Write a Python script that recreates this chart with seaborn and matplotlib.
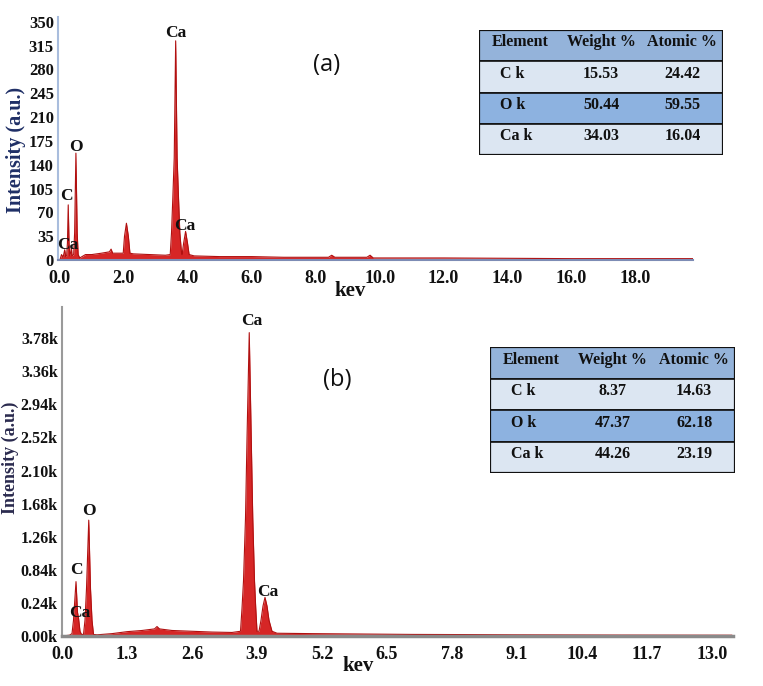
import numpy as np
import pandas as pd
import matplotlib.pyplot as plt
from matplotlib.patches import Rectangle
import seaborn as sns

# спектр (a): энергия (кэВ) и интенсивность
energy_a = [0.0, 0.05, 0.10, 0.15, 0.18, 0.21, 0.235, 0.26, 0.285, 0.31, 0.34, 0.36, 0.38,
            0.43, 0.46, 0.50, 0.54, 0.57, 0.62, 0.8, 1.0, 1.3, 1.55, 1.6, 1.65, 1.9,
            1.98, 2.02, 2.08, 2.14, 2.19, 2.3, 2.8, 3.3, 3.45, 3.49, 3.53, 3.575, 3.62,
            3.665, 3.71, 3.75, 3.80, 3.82, 3.87, 3.93, 3.99, 4.04, 4.2, 5.0, 6.0, 7.0,
            8.4, 8.5, 8.6, 9.6, 9.7, 9.8, 12.0, 16.0, 19.8]
counts_a = [0, 8, 4, 15, 5, 6, 25, 81, 25, 6, 12, 18, 6,
            8, 40, 157, 40, 8, 3, 8, 8, 10, 12, 16, 10, 10,
            10, 35, 54, 35, 10, 9, 8, 7, 8, 40, 90, 150, 322,
            150, 90, 40, 12, 8, 25, 42, 25, 8, 6, 5, 5, 4,
            4, 7, 4, 4, 7, 3, 3, 2, 2]

# спектр (b)
energy_b = [0.0, 0.15, 0.20, 0.23, 0.28, 0.31, 0.33, 0.36, 0.39, 0.43, 0.46, 0.49, 0.535,
            0.57, 0.60, 0.63, 0.7, 1.0, 1.3, 1.6, 1.85, 1.9, 1.95, 2.2, 2.6, 3.0, 3.4,
            3.57, 3.60, 3.63, 3.67, 3.70, 3.745, 3.785, 3.815, 3.85, 3.875, 3.90, 3.94,
            3.98, 4.02, 4.06, 4.10, 4.14, 4.20, 4.3, 5.0, 6.0, 7.0, 8.0, 9.0, 11.0, 13.4]
counts_b = [0, 10, 30, 200, 690, 300, 230, 60, 20, 20, 200, 600, 1470,
            600, 200, 20, 15, 30, 55, 70, 90, 120, 90, 70, 60, 50, 45,
            60, 350, 700, 1500, 2500, 3850, 2500, 1500, 700, 350, 60, 60,
            200, 380, 490, 380, 200, 60, 35, 30, 25, 20, 18, 15, 12, 10]

# подписи пиков
labels_a = ["Ca", "O", "C", "Ca", "Ca"]
label_x_a = [3.63, 0.50, 0.19, 0.25, 3.90]
label_y_a = [334, 166, 94, 22, 50]
labels_b = ["Ca", "O", "C", "Ca", "Ca"]
label_x_b = [3.80, 0.54, 0.28, 0.36, 4.12]
label_y_b = [3997, 1586, 838, 292, 558]

# оси
xticks_a = [0.0, 2.0, 4.0, 6.0, 8.0, 10.0, 12.0, 14.0, 16.0, 18.0]
yticks_a = [0, 35, 70, 105, 140, 175, 210, 245, 280, 315, 350]
xticks_b = [0.0, 1.3, 2.6, 3.9, 5.2, 6.5, 7.8, 9.1, 10.4, 11.7, 13.0]
yticks_b = [0, 420, 840, 1260, 1680, 2100, 2520, 2940, 3360, 3780]
ylabels_b = ["0.00k", "0.24k", "0.84k", "1.26k", "1.68k", "2.10k",
             "2.52k", "2.94k", "3.36k", "3.78k"]

# таблицы состава
elements = ["C k", "O k", "Ca k"]
weight_a = ["15.53", "50.44", "34.03"]
atomic_a = ["24.42", "59.55", "16.04"]
weight_b = ["8.37", "47.37", "44.26"]
atomic_b = ["14.63", "62.18", "23.19"]

sns.set_theme(style="white")
plt.rcParams['font.family'] = ['Liberation Serif', 'DejaVu Serif']

W, H = 763, 686
fig = plt.figure(figsize=(W / 100, H / 100), dpi=100)


def px_axes(left, top, right, bottom):
    return fig.add_axes([left / W, 1 - bottom / H, (right - left) / W, (bottom - top) / H])


def spectrum(ax, e, c, xlim, ylim, xticks, yticks, ylabels, lab, lx, ly,
             left_col, bottom_col, bottom_lw, ysize):
    df = pd.DataFrame({"keV": e, "counts": c})
    ax.fill_between(df["keV"], 0, df["counts"], color="#d41a1a", alpha=0.95, lw=0)
    sns.lineplot(data=df, x="keV", y="counts", ax=ax, color="#b01010", lw=0.8)
    ax.set_xlim(*xlim)
    ax.set_ylim(*ylim)
    ax.set_xticks(xticks)
    ax.set_xticklabels([f"{t:.1f}" for t in xticks])
    ax.set_yticks(yticks)
    ax.set_yticklabels(ylabels)
    ax.tick_params(axis="y", length=0, labelsize=ysize, pad=3)
    ax.tick_params(axis="x", length=0, labelsize=13, pad=7)
    for t in ax.get_xticklabels() + ax.get_yticklabels():
        t.set_fontweight("bold")
        t.set_color("#111111")
    for s in ["top", "right"]:
        ax.spines[s].set_visible(False)
    ax.spines["left"].set_color(left_col)
    ax.spines["left"].set_linewidth(1.5)
    ax.spines["bottom"].set_color(bottom_col)
    ax.spines["bottom"].set_linewidth(bottom_lw)
    ax.set_xlabel("")
    ax.set_ylabel("")
    ax.set_facecolor("none")
    for t, x, y in zip(lab, lx, ly):
        ax.text(x, y, t, ha="center", va="center", fontsize=12.5,
                fontweight="bold", color="#111111", clip_on=False)


ax_a = px_axes(58, 17, 693, 260)
spectrum(ax_a, energy_a, counts_a, (-0.06, 19.8), (0, 357), xticks_a, yticks_a,
         [str(v) for v in yticks_a], labels_a, label_x_a, label_y_a,
         "#a9bddd", "#7d8cb5", 1.5, 12)

ax_b = px_axes(62, 307, 733, 636)
spectrum(ax_b, energy_b, counts_b, (0, 13.42), (0, 4175), xticks_b, yticks_b,
         ylabels_b, labels_b, label_x_b, label_y_b,
         "#9a9a9a", "#8a8a8a", 2.5, 11.5)

# подписи осей
fig.text(16 / W, 1 - 150 / H, "Intensity (a.u.)", rotation=90, ha="center", va="center",
         fontsize=14.5, fontweight="bold", color="#1f2f66")
fig.text(10 / W, 1 - 458 / H, "Intensity (a.u.)", rotation=90, ha="center", va="center",
         fontsize=13, fontweight="bold", color="#2a2a4e")
fig.text(350 / W, 1 - 291 / H, "kev", ha="center", va="center", fontsize=15,
         fontweight="bold", color="#111111")
fig.text(358 / W, 1 - 666 / H, "kev", ha="center", va="center", fontsize=15,
         fontweight="bold", color="#111111")
fig.text(327 / W, 1 - 65 / H, "(a)", ha="center", va="center", fontsize=17,
         family="Open Sans", color="#111111")
fig.text(337 / W, 1 - 380 / H, "(b)", ha="center", va="center", fontsize=17,
         family="Open Sans", color="#111111")


def comp_table(left, top, right, bottom, weight, atomic):
    ax = px_axes(left, top, right, bottom)
    ax.set_xlim(0, 3)
    ax.set_ylim(4, 0)
    ax.axis("off")
    fills = ["#94b3da", "#dce6f2", "#8db2e0", "#dce6f2"]
    rows = [["Element", "Weight %", "Atomic %"]] + \
           [[e, w, a] for e, w, a in zip(elements, weight, atomic)]
    for i, (fc, row) in enumerate(zip(fills, rows)):
        ax.add_patch(Rectangle((0, i), 3, 1, facecolor=fc, edgecolor="#111111", lw=1.2))
        for j, txt in enumerate(row):
            if i > 0 and j == 0:
                ax.text(0.26, i + 0.4, txt, ha="left", va="center", fontsize=11.5,
                        fontweight="bold", color="#111111")
            else:
                ax.text(j + 0.5, i + 0.4, txt, ha="center", va="center", fontsize=11.5,
                        fontweight="bold", color="#111111")
    ax.add_patch(Rectangle((0, 0), 3, 4, fill=False, edgecolor="#111111", lw=1.6))


comp_table(479, 30, 723, 155, weight_a, atomic_a)
comp_table(490, 347, 735, 473, weight_b, atomic_b)

fig.savefig("out.png", dpi=100)
